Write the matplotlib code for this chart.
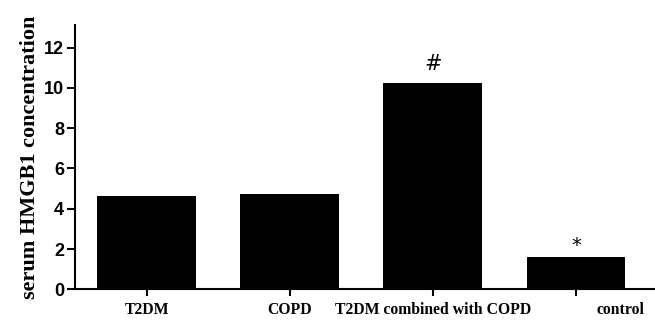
import matplotlib.pyplot as plt

groups = ["T2DM", "COPD", "T2DM combined with COPD", "control"]
hmgb1 = [4.63, 4.73, 10.23, 1.62]
marks = ["", "", "#", "*"]
y_ticks = [0, 2, 4, 6, 8, 10, 12]

fig = plt.figure(figsize=(6.55, 3.2), dpi=100)
ax = fig.add_axes([0.1145, 0.096, 0.885, 0.826])

x = list(range(len(groups)))
ax.bar(x, hmgb1, width=0.69, color="black")

# significance marks above bars
for xi, val, m in zip(x, hmgb1, marks):
    if m == "#":
        ax.text(xi, val + 0.45, m, ha="center", va="bottom", fontsize=15,
                family="DejaVu Sans")
    elif m == "*":
        ax.text(xi, val + 0.1, m, ha="center", va="bottom", fontsize=14,
                family="DejaVu Sans")

ax.set_xlim(-0.5, 3.55)
ax.set_ylim(0, 13.13)
ax.set_yticks(y_ticks)
ax.set_xticks(x)
# the "control" label sits right of its tick in the original, so it goes on a minor tick
ax.set_xticklabels(groups[:3] + [""], family="Liberation Serif", fontweight="bold", fontsize=11.3)
ax.set_xticks([3.31], [groups[3]], minor=True, family="Liberation Serif",
              fontweight="bold", fontsize=11.3)
for lab in ax.get_yticklabels():
    lab.set_family("Liberation Sans")
    lab.set_fontweight("bold")
    lab.set_fontsize(13)

ax.set_ylabel("serum HMGB1 concentration", family="Liberation Serif",
              fontweight="bold", fontsize=16, labelpad=3)

for side in ["top", "right"]:
    ax.spines[side].set_visible(False)
for side in ["left", "bottom"]:
    ax.spines[side].set_linewidth(1.5)
ax.tick_params(axis="y", length=6, width=1.5, pad=2)
ax.tick_params(axis="x", which="major", length=5, width=1.5, pad=4)
ax.tick_params(axis="x", which="minor", length=0, pad=9)

fig.savefig("out.png", dpi=100)
